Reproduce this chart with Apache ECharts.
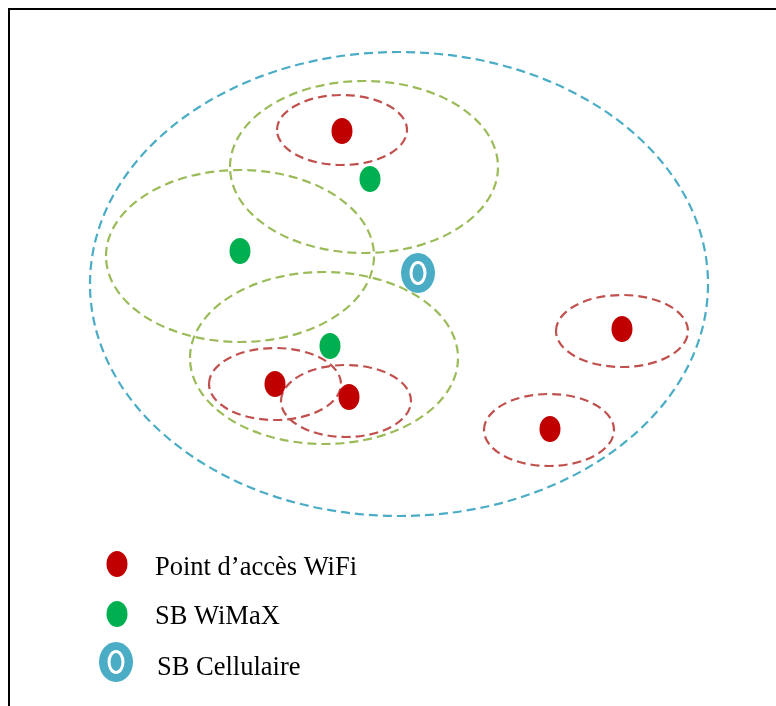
<!DOCTYPE html>
<html><head><meta charset="utf-8">
<script src="https://cdn.jsdelivr.net/npm/echarts@6/dist/echarts.min.js"></script>
<style>html,body{margin:0;padding:0;background:#fff}#c{width:776px;height:706px}</style>
</head><body><div id="c"></div>
<script>
// Coverage zones: [cx, cy, rx, ry] in diagram units (x right, y down)
const cellZone = [[399, 284, 309, 232]];
const wimaxZones = [[364, 167, 134, 86], [240, 256, 134, 86], [324, 358, 134, 86]];
const wifiZones = [[342, 130, 65, 35], [275, 384, 66, 36], [346, 401, 65, 36], [622, 331, 66, 36], [549, 430, 65, 36]];
// Stations
const wifiPoints = [[342, 131], [275, 384], [349, 397], [622, 329], [550, 429]];
const wimaxPoints = [[370, 179], [240, 251], [330, 346]];
const cellPoints = [[418, 273]];
// Legend
const legendLabels = ['Point d\u2019accès WiFi', 'SB WiMaX', 'SB Cellulaire'];
const legendIcons = [[117, 564], [117, 614], [116, 662]];
const legendTextTop = [555, 604, 655];

const C_BLUE = '#4BACC6', C_GREEN = '#9BBB59', C_RED = '#C0504D';
const DOT_RED = '#C00000', DOT_GREEN = '#00B050';

function zoneSeries(data, color) {
  return {
    type: 'custom', coordinateSystem: 'cartesian2d', silent: true,
    data: data,
    renderItem: function (params, api) {
      const c = api.coord([api.value(0), api.value(1)]);
      const s = api.size([api.value(2), api.value(3)]);
      return {
        type: 'ellipse',
        shape: { cx: c[0], cy: c[1], rx: s[0], ry: s[1] },
        style: { fill: 'none', stroke: color, lineWidth: 2.2, lineDash: [9, 5] }
      };
    }
  };
}
function dotSeries(data, color) {
  return {
    type: 'scatter', silent: true, data: data,
    symbol: 'circle', symbolSize: [21, 26],
    itemStyle: { color: color, opacity: 1 }
  };
}
function cellSeries(data) {
  return {
    type: 'custom', coordinateSystem: 'cartesian2d', silent: true,
    data: data,
    renderItem: function (params, api) {
      const c = api.coord([api.value(0), api.value(1)]);
      return {
        type: 'group',
        children: [
          { type: 'ellipse', shape: { cx: c[0], cy: c[1], rx: 17, ry: 20 }, style: { fill: C_BLUE } },
          { type: 'ellipse', shape: { cx: c[0], cy: c[1], rx: 7, ry: 10.5 }, style: { fill: C_BLUE, stroke: '#fff', lineWidth: 3 } }
        ]
      };
    }
  };
}

const chart = echarts.init(document.getElementById('c'));
const graphics = [
  { type: 'polyline', shape: { points: [[9, 706], [9, 9], [776, 9]] }, style: { stroke: '#000', lineWidth: 2, fill: 'none' } }
];
legendLabels.forEach(function (t, i) {
  graphics.push({
    type: 'text', left: i === 2 ? 157 : 155, top: legendTextTop[i],
    style: { text: t, font: '26.5px "Liberation Serif", "Times New Roman", serif', fill: '#000' }
  });
});

chart.setOption({
  animation: false,
  grid: { left: 0, right: 0, top: 0, bottom: 0 },
  xAxis: { type: 'value', min: 0, max: 776, show: false },
  yAxis: { type: 'value', min: 0, max: 706, inverse: true, show: false },
  series: [
    zoneSeries(cellZone, C_BLUE),
    zoneSeries(wimaxZones, C_GREEN),
    zoneSeries(wifiZones, C_RED),
    dotSeries(wifiPoints, DOT_RED),
    dotSeries(wimaxPoints, DOT_GREEN),
    cellSeries(cellPoints),
    dotSeries([legendIcons[0]], DOT_RED),
    dotSeries([legendIcons[1]], DOT_GREEN),
    cellSeries([legendIcons[2]])
  ],
  graphic: graphics
});
</script></body></html>
